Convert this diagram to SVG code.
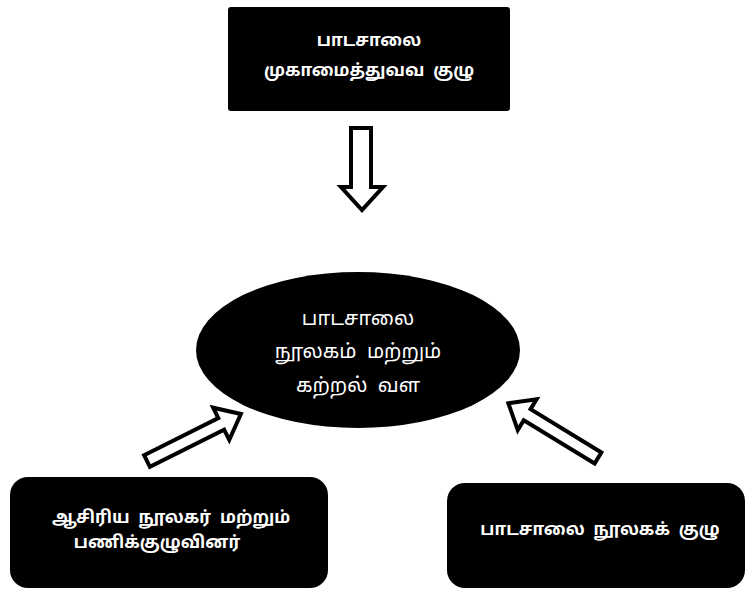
<svg xmlns="http://www.w3.org/2000/svg" width="747" height="589" viewBox="0 0 747 589">
<style>
.box{fill:#000;}
.t{fill:#fff;font-family:"Noto Sans Tamil","Latha","Noto Sans","Liberation Sans",sans-serif;font-size:17px;white-space:pre;}
.b{font-weight:bold;}
.e{font-size:20px;}
.arr{fill:#fff;stroke:#000;stroke-width:4;stroke-linejoin:miter;}
</style>
<rect width="747" height="589" fill="#fff"/>
<defs>
<polygon id="arrowR" points="0,-6.5 83,-6.5 83,-18 105,0 83,18 83,6.5 0,6.5"/>
</defs>
<g id="node-top">
<rect class="box" x="228" y="7" width="282" height="104" rx="3"/>
<text class="t b" x="369" y="46" text-anchor="middle">பாடசாலை</text>
<text class="t b" x="369" y="76" text-anchor="middle" xml:space="preserve">முகாமைத்துவவ  குழு</text>
</g>
<g id="node-center">
<ellipse class="box" cx="358" cy="350" rx="162" ry="78"/>
<text class="t e" x="358" y="325" text-anchor="middle">பாடசாலை</text>
<text class="t e" x="358" y="358" text-anchor="middle" xml:space="preserve">நூலகம்  மற்றும்</text>
<text class="t e" x="358" y="392" text-anchor="middle" xml:space="preserve">கற்றல்  வள</text>
</g>
<g id="node-left">
<rect class="box" x="10" y="477" width="318" height="111" rx="18"/>
<text class="t b" x="171" y="523" text-anchor="middle" xml:space="preserve">ஆசிரிய  நூலகர்  மற்றும்</text>
<text class="t b" x="157" y="548" text-anchor="middle">பணிக்குழுவினர்</text>
</g>
<g id="node-right">
<rect class="box" x="447" y="483" width="298" height="105" rx="18"/>
<text class="t b" x="600" y="535" text-anchor="middle" xml:space="preserve">பாடசாலை  நூலகக்  குழு</text>
</g>
<g id="connectors">
<polygon class="arr" points="351,128 371,128 371,187 383,187 362,210 341,187 351,187"/>
<use href="#arrowR" class="arr" transform="translate(147,461) rotate(-26.6)"/>
<use href="#arrowR" class="arr" transform="translate(598,458) rotate(-148.6)"/>
</g>
</svg>
